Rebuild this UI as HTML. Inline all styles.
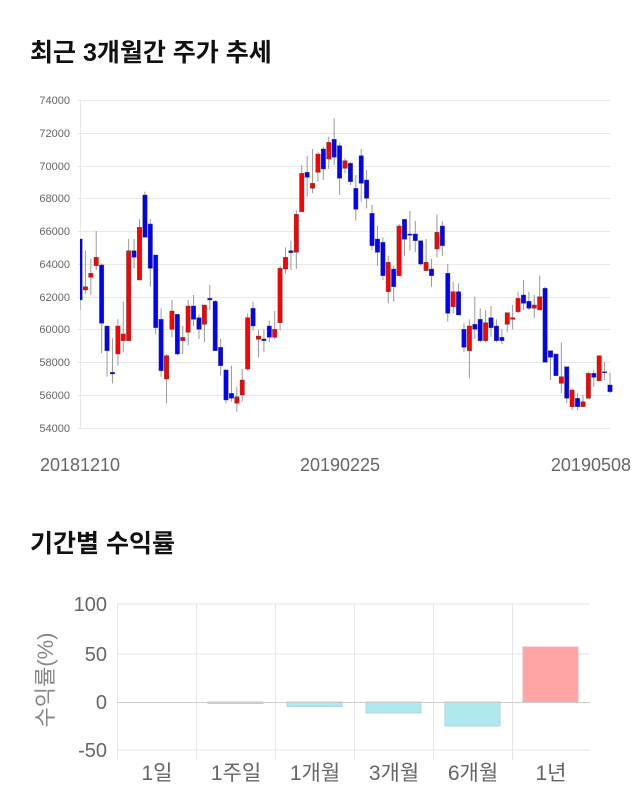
<!DOCTYPE html>
<html><head><meta charset="utf-8">
<style>
body{margin:0;background:#fff;}
svg{display:block;font-family:"Liberation Sans","Noto Sans CJK KR",sans-serif;}
</style></head><body>
<svg id="s" width="640" height="810" xmlns="http://www.w3.org/2000/svg">
<defs><clipPath id="cp"><rect x="80" y="90" width="540" height="350"/></clipPath></defs>
<text x="30" y="61" font-size="25" font-weight="bold" fill="#111">최근 3개월간 주가 추세</text>
<text x="30" y="552" font-size="25" font-weight="bold" fill="#111">기간별 수익률</text>
<g id="grid"></g>
<g id="candles" clip-path="url(#cp)"></g>
<text x="80" y="471" font-size="18" fill="#666" text-anchor="middle">20181210</text>
<text x="340" y="471" font-size="18" fill="#666" text-anchor="middle">20190225</text>
<text x="631" y="471" font-size="18" fill="#666" text-anchor="end">20190508</text>

<g stroke="#e6e6e6" stroke-width="1">
<line x1="117" y1="604" x2="590" y2="604"/>
<line x1="117" y1="654" x2="590" y2="654"/>
<line x1="117" y1="750" x2="590" y2="750"/>
<line x1="117.5" y1="604" x2="117.5" y2="760"/>
<line x1="196.5" y1="604" x2="196.5" y2="760"/>
<line x1="275.5" y1="604" x2="275.5" y2="760"/>
<line x1="354.5" y1="604" x2="354.5" y2="760"/>
<line x1="433.5" y1="604" x2="433.5" y2="760"/>
<line x1="512.5" y1="604" x2="512.5" y2="760"/>
</g>
<g fill="#b0e8f0" stroke="#a8d8e0">
<rect x="208" y="702" width="55" height="1.5"/>
<rect x="287" y="702" width="55" height="4.5"/>
<rect x="366" y="702" width="55" height="11"/>
<rect x="445" y="702" width="55" height="24"/>
</g>
<rect x="523" y="647" width="55" height="55" fill="#ffa5a5" stroke="#f0b0b0"/>
<line x1="117" y1="702.5" x2="590" y2="702.5" stroke="#ccc"/>
<g font-size="20" fill="#666" text-anchor="end">
<text x="107" y="611">100</text>
<text x="107" y="661">50</text>
<text x="107" y="709">0</text>
<text x="107" y="757">-50</text>
</g>
<g font-size="21" fill="#666" text-anchor="middle">
<text x="157" y="780">1일</text>
<text x="236" y="780">1주일</text>
<text x="315" y="780">1개월</text>
<text x="394" y="780">3개월</text>
<text x="473" y="780">6개월</text>
<text x="551" y="780">1년</text>
</g>
<text transform="translate(53,680) rotate(-90)" font-size="22" fill="#888" text-anchor="middle">수익률(%)</text>
</svg>
<script>
var NS="http://www.w3.org/2000/svg";
function el(p,t,a){var e=document.createElementNS(NS,t);for(var k in a)e.setAttribute(k,a[k]);p.appendChild(e);return e;}
var g=document.getElementById("grid");
var ys=[100,133,166,198,231,264,297,329,362,395,428];
for(var i=0;i<ys.length;i++){
 el(g,"line",{x1:78,x2:610,y1:ys[i]+.5,y2:ys[i]+.5,stroke:"#e8e8e8"});
 var t=el(g,"text",{x:70,y:ys[i]+4,"font-size":11,fill:"#666","text-anchor":"end"});t.textContent=String(74000-2000*i);
}
el(g,"line",{x1:80.5,x2:80.5,y1:100,y2:428,stroke:"#e8e8e8"});
var d=[
["B",477,660,477,690],["R",620,630,512,640],["R",580,592,537,645],["R",532,557,453,570],["B",555,730,550,820],["B",738,812,738,890],["B",877,882,775,910],["R",738,822,718,857],["R",762,782,665,817],["R",512,782,477,782],
["B",512,532,477,565],["R",442,600,418,600],["B",345,472,335,472],["B",432,565,418,620],["B",525,743,525,763],["B",718,872,685,890],["R",827,897,822,970],["R",693,748,660,772],["B",703,822,703,827],["R",772,782,738,822],
["R",678,757,660,797],["B",678,718,645,738],["B",713,748,703,777],["R",675,733,675,787],["B",655,660,615,690],["B",664,812,660,812],["B",802,857,777,887],["B",870,960,867,970],["B",940,955,857,965],["R",950,970,920,995],
["R",900,945,867,965],["R",713,867,700,872],["B",685,738,665,752],["R",768,778,748,832],["B",777,782,748,817],["B",738,772,723,787],["R",748,772,693,777],["R",565,728,557,752],["R",532,567,502,580],["B",512,518,482,570],
["R",403,517,390,567],["R",280,395,255,395],["B",277,292,227,350],["R",310,325,207,340],["R",222,277,217,305],["B",207,267,200,300],["R",187,237,170,267],
["B",178,232,115,255],["B",197,295,190,345],["R",242,265,235,280],["B",250,305,245,315],["B",325,388,285,422],["B",227,310,207,365],["B",300,355,270,385],["B",400,497,375,510],["B",477,517,437,557],["B",487,587,472,600],
["R",547,635,527,670],["B",567,620,557,665],["R",438,587,432,587],["B",418,478,418,527],["B",462,465,393,512],["B",462,482,423,517],["B",482,552,482,557],["R",547,572,477,572],["B",567,587,537,620],["R",457,507,403,532],
["B",438,497,423,527],["B",580,700,552,725],["R",635,680,605,700],["B",635,705,610,705],["B",748,802,730,817],["R",738,812,718,895],["B",733,748,650,777],["B",718,782,685,787],["R",728,782,690,787],["B",713,743,678,770],
["B",738,782,718,787],["B",772,782,748,792],["R",698,733,698,757],["R",713,718,675,748],["R",655,695,635,700],["B",645,670,600,690],["B",664,685,635,690],["R",675,685,645,713],["R",650,690,587,690],["B",625,847,620,847],
["B",812,832,812,900],["B",822,887,822,887],["R",890,910,787,940],["B",860,955,860,970],["R",930,980,925,990],["B",955,980,940,990],["R",965,980,945,980],["R",880,955,875,955],["B",880,892,870,920],["R",827,902,827,905],
["B",875,878,845,900],["B",915,935,878,940]];
var c=document.getElementById("candles");
var step=530/(d.length-1);
for(var i=0;i<d.length;i++){
 var x=80+i*step,q=d[i];
 var bt=q[1]/3+80,bb=q[2]/3+80,wt=q[3]/3+80,wb=q[4]/3+80;
 el(c,"line",{x1:x,x2:x,y1:wt,y2:wb,stroke:"#999","stroke-width":1});
 var h=Math.max(bb-bt,1.2);
 el(c,"rect",{x:x-2.2,y:bt,width:4.4,height:h,fill:q[0]=="R"?"#f00":"#00f",stroke:"#444","stroke-width":0.4});
}
</script>
</body></html>
